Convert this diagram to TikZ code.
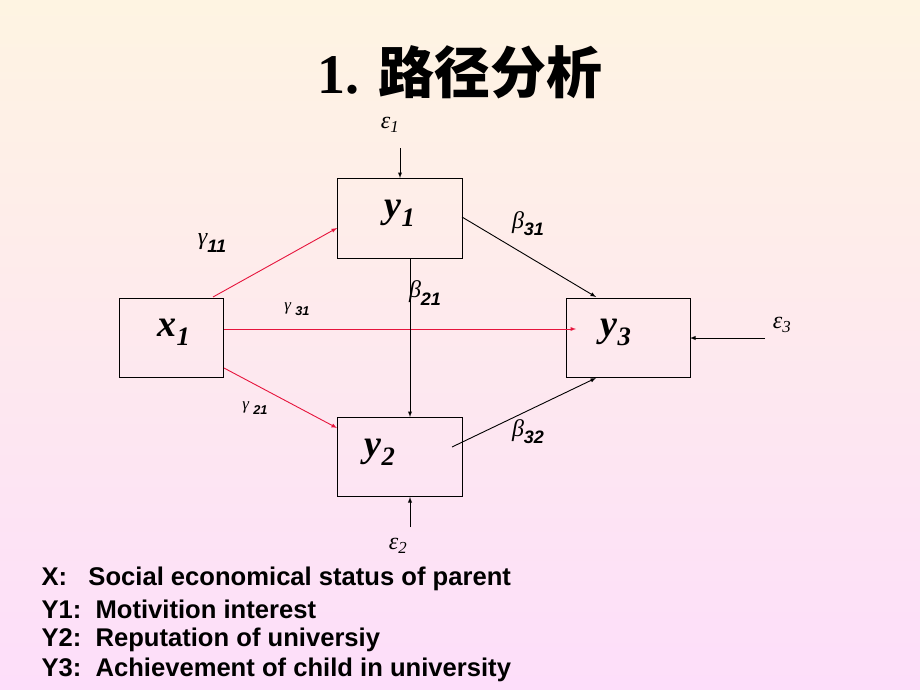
\documentclass[tikz,border=0pt]{standalone}
\usepackage{fontspec}
\setmainfont{Liberation Serif}
\setsansfont{Liberation Sans}
\newfontfamily\cjk{Noto Sans CJK SC}
\definecolor{bgtop}{RGB}{254,244,226}
\definecolor{bgbot}{RGB}{253,222,250}
\definecolor{pathred}{RGB}{230,20,60}
\newcommand{\sbs}[1]{\raisebox{-0.3em}{\scalebox{0.75}{\sffamily\bfseries\itshape #1}}}
\begin{document}
\begin{tikzpicture}[x=1pt,y=-1pt,
  box/.style={draw,line width=1pt,inner sep=0pt},
  con/.style={-latex,line width=0.9pt},
  rcon/.style={-latex,line width=0.9pt,draw=pathred},
  lab/.style={font=\itshape\fontsize{24}{24}\selectfont},
  slab/.style={font=\itshape\fontsize{17}{17}\selectfont},
  vlab/.style={font=\bfseries\itshape\fontsize{38}{38}\selectfont},
  legend/.style={anchor=west,font=\sffamily\bfseries\fontsize{25.6}{25.6}\selectfont}]
\shade[top color=bgtop,bottom color=bgbot] (0,0) rectangle (920,690);
\useasboundingbox (0,0) rectangle (920,690);
\node (title) at (460,72) {\fontsize{56}{56}\selectfont\bfseries 1. {\cjk\bfseries 路径分析}};
\node[box,minimum width=125pt,minimum height=80pt] (y1) at (399.5,218) {};
\node[box,minimum width=104pt,minimum height=79pt] (x1) at (171,337.5) {};
\node[box,minimum width=124pt,minimum height=79pt] (y3) at (628,337.5) {};
\node[box,minimum width=125pt,minimum height=79pt] (y2) at (399.5,456.5) {};
\node[vlab] (ty1) at (400,213) {y\textsubscript{1}};
\node[vlab] (tx1) at (174,332) {x\textsubscript{1}};
\node[vlab] (ty3) at (616,332) {y\textsubscript{3}};
\node[vlab] (ty2) at (380,452) {y\textsubscript{2}};
\node[lab] (e1) at (390,125) {ε\textsubscript{1}};
\node[lab] (e2) at (398,546) {ε\textsubscript{2}};
\node[lab] (e3) at (782,325) {ε\textsubscript{3}};
\coordinate (e1s) at (400,148);
\coordinate (e1t) at (400,178);
\coordinate (e2s) at (410,527);
\coordinate (e2t) at (410,497);
\coordinate (e3s) at (765,338);
\coordinate (e3t) at (690,338);
\draw[con] (e1s) -- (e1t);
\draw[con] (e2s) -- (e2t);
\draw[con] (e3s) -- (e3t);
\coordinate (a1) at (213,297); \coordinate (b1) at (337,228);
\coordinate (a2) at (224,329); \coordinate (b2) at (576,329);
\coordinate (a3) at (224,368); \coordinate (b3) at (337,428);
\draw[rcon] (a1) -- (b1);
\draw[rcon] (a2) -- (b2);
\draw[rcon] (a3) -- (b3);
\coordinate (c1) at (462,217); \coordinate (d1) at (596,297);
\coordinate (c2) at (410,258); \coordinate (d2) at (410,417);
\coordinate (c3) at (452,447); \coordinate (d3) at (596,378);
\draw[con] (c1) -- (d1);
\draw[con] (c2) -- (d2);
\draw[con] (c3) -- (d3);
\node[lab] (g11) at (212,243) {γ\sbs{11}};
\node[slab] (g31) at (297,309) {γ \sbs{31}};
\node[slab] (g21) at (255,408) {γ \sbs{21}};
\node[lab] (b31) at (528,224) {β\sbs{31}};
\node[lab] (b21) at (425,293) {β\sbs{21}};
\node[lab] (b32) at (528,432) {β\sbs{32}};
\node[legend] (l1) at (38,579) {X:\ \ \ Social economical status of parent};
\node[legend] (l2) at (38,609) {Y1:\ \ Motivition interest};
\node[legend] (l3) at (38,640) {Y2:\ \ Reputation of universiy};
\node[legend] (l4) at (38,670) {Y3:\ \ Achievement of child in university};
\end{tikzpicture}
\end{document}
